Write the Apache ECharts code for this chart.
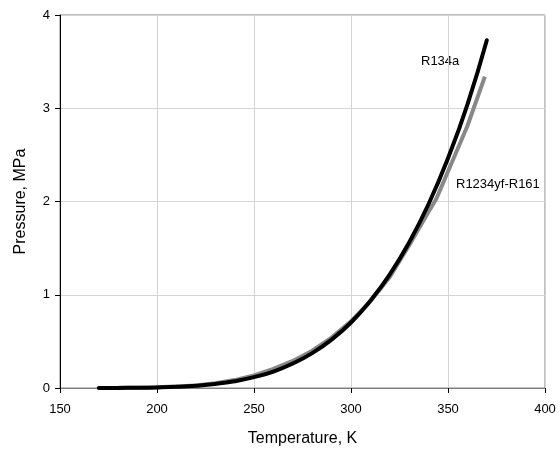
<!DOCTYPE html>
<html><head><meta charset="utf-8">
<script src="https://cdn.jsdelivr.net/npm/echarts@6/dist/echarts.min.js"></script>
<style>html,body{margin:0;padding:0;background:#fff}#c{width:560px;height:452px}</style>
</head><body><div id="c"></div>
<script>
var temps134a = [170,180,190,200,210,220,230,240,250,260,270,280,290,300,310,320,330,340,350,360,370];
var p134a = [0.0004,0.0009,0.0024,0.0058,0.0124,0.0243,0.0432,0.0725,0.116,0.176,0.262,0.374,0.519,0.702,0.935,1.218,1.562,1.973,2.464,3.04,3.73];
var tempsMix = [170,180,190,200,210,220,230,240,250,260,270,280,290,300,310,320,330,340,344,360,369];
var pMix = [0.001,0.002,0.004,0.008,0.015,0.028,0.05,0.085,0.135,0.205,0.29,0.40,0.54,0.715,0.93,1.19,1.53,1.89,2.03,2.81,3.34];
var xTicks = [150,200,250,300,350,400];
var yTicks = [0,1,2,3,4];
var seriesNames = ['R134a','R1234yf-R161'];

function pairs(xs, ys){ return xs.map(function(x,i){return [x, ys[i]];}); }

var chart = echarts.init(document.getElementById('c'));
var font = 'Liberation Sans, Arial, sans-serif';
chart.setOption({
  animation:false,
  backgroundColor:'#fff',
  grid:{left:60,right:15,top:15,bottom:63,show:true,borderColor:'#808080',borderWidth:1},
  xAxis:{type:'value',min:xTicks[0],max:xTicks[xTicks.length-1],interval:50,
    name:'Temperature, K',nameLocation:'middle',nameGap:43,
    nameTextStyle:{fontFamily:font,fontSize:16,color:'#000'},
    axisLine:{lineStyle:{color:'#808080',width:1}},
    axisTick:{show:true,length:5,lineStyle:{color:'#000'}},
    axisLabel:{fontFamily:font,fontSize:13,color:'#000',margin:15},
    splitLine:{show:true,lineStyle:{color:'#d4d4d4',width:1}}},
  yAxis:{type:'value',min:yTicks[0],max:yTicks[yTicks.length-1],interval:1,
    name:'Pressure, MPa',nameLocation:'middle',nameGap:31,nameRotate:90,
    nameTextStyle:{fontFamily:font,fontSize:16,color:'#000'},
    axisLine:{show:true,lineStyle:{color:'#000',width:1}},
    axisTick:{show:true,length:5,lineStyle:{color:'#000'}},
    axisLabel:{fontFamily:font,fontSize:13,color:'#000',margin:10},
    splitLine:{show:true,lineStyle:{color:'#d4d4d4',width:1}}},
  series:[
    {name:seriesNames[1],type:'line',data:pairs(tempsMix,pMix),showSymbol:false,smooth:false,
     lineStyle:{color:'#888888',width:4,cap:'butt'},z:2},
    {name:seriesNames[0],type:'line',data:pairs(temps134a,p134a),showSymbol:false,smooth:true,
     lineStyle:{color:'#000',width:4,cap:'round'},z:3}
  ],
  graphic:[
    {type:'text',left:421,top:55,style:{text:seriesNames[0],font:'13px '+font,fill:'#000'}},
    {type:'text',left:456,top:178,style:{text:seriesNames[1],font:'13px '+font,fill:'#000'}}
  ]
});
</script></body></html>
